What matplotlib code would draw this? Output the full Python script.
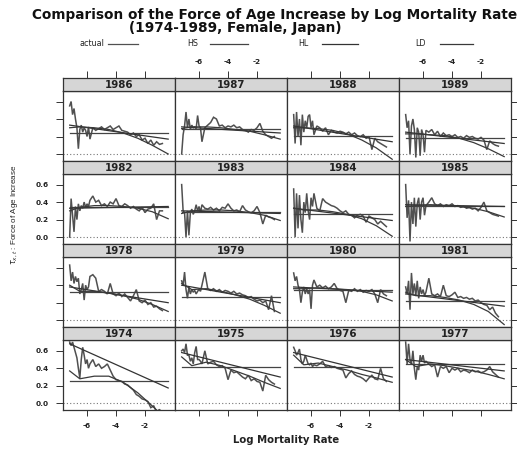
import matplotlib
matplotlib.use("Agg")
import matplotlib.pyplot as plt
from matplotlib.lines import Line2D

plt.rcParams['font.family'] = ['DejaVu Sans']
plt.rcParams['axes.unicode_minus'] = False

# ---------------- data ----------------
X = [-7.2, -7.1, -7.0, -6.9, -6.8, -6.7, -6.6, -6.5, -6.4, -6.3, -6.2, -6.1, -6.0, -5.9, -5.8,
     -5.6, -5.4, -5.2, -5.0, -4.8, -4.6, -4.4, -4.2, -4.0, -3.8, -3.6, -3.4, -3.2, -3.0, -2.8,
     -2.6, -2.4, -2.2, -2.0, -1.8, -1.6, -1.4, -1.2, -1.0, -0.8]

actual_1974 = [0.70, 0.66, 0.70, 0.64, 0.58, 0.52, 0.40, 0.29, 0.50, 0.64, 0.55, 0.45, 0.50, 0.40, 0.45,
               0.50, 0.42, 0.45, 0.40, 0.42, 0.45, 0.38, 0.31, 0.27, 0.26, 0.25, 0.22, 0.21, 0.18, 0.15,
               0.10, 0.08, 0.05, 0.04, 0.02, -0.05, -0.03, -0.10, -0.07, -0.12]
actual_1975 = [0.60, 0.62, 0.58, 0.68, 0.55, 0.55, 0.48, 0.52, 0.45, 0.58, 0.65, 0.50, 0.50, 0.48, 0.45,
               0.60, 0.45, 0.47, 0.48, 0.44, 0.42, 0.43, 0.40, 0.27, 0.38, 0.35, 0.36, 0.33, 0.30, 0.28,
               0.32, 0.26, 0.28, 0.25, 0.24, 0.14, 0.32, 0.27, 0.24, 0.22]
actual_1976 = [0.64, 0.60, 0.55, 0.58, 0.62, 0.50, 0.45, 0.48, 0.55, 0.50, 0.45, 0.44, 0.46, 0.42, 0.44,
               0.43, 0.45, 0.48, 0.42, 0.43, 0.41, 0.42, 0.40, 0.39, 0.38, 0.29, 0.34, 0.37, 0.33, 0.31,
               0.30, 0.28, 0.25, 0.29, 0.32, 0.28, 0.27, 0.40, 0.28, 0.25]
actual_1977 = [0.70, 0.45, 0.68, 0.50, 0.45, 0.60, 0.40, 0.27, 0.42, 0.38, 0.55, 0.48, 0.55, 0.46, 0.48,
               0.45, 0.42, 0.44, 0.30, 0.42, 0.40, 0.42, 0.35, 0.40, 0.38, 0.40, 0.36, 0.38, 0.37, 0.35,
               0.38, 0.36, 0.37, 0.35, 0.36, 0.38, 0.42, 0.36, 0.33, 0.30]
actual_1978 = [0.63, 0.45, 0.55, 0.42, 0.50, 0.44, 0.48, 0.30, 0.35, 0.42, 0.23, 0.40, 0.35, 0.38, 0.50,
               0.52, 0.48, 0.33, 0.35, 0.33, 0.30, 0.42, 0.30, 0.28, 0.31, 0.27, 0.30, 0.26, 0.22, 0.28,
               0.35, 0.22, 0.20, 0.23, 0.18, 0.20, 0.15, 0.16, 0.13, 0.11]
actual_1979 = [0.45, 0.40, 0.55, 0.35, 0.25, 0.38, 0.30, 0.35, 0.32, 0.34, 0.30, 0.33, 0.35, 0.33, 0.40,
               0.55, 0.36, 0.34, 0.36, 0.33, 0.35, 0.32, 0.34, 0.33, 0.31, 0.33, 0.30, 0.31, 0.29, 0.28,
               0.26, 0.27, 0.24, 0.22, 0.23, 0.20, 0.22, 0.12, 0.28, 0.10]
actual_1980 = [0.54, 0.45, 0.50, 0.40, 0.35, 0.20, 0.32, 0.38, 0.30, 0.36, 0.30, 0.35, 0.13, 0.40, 0.46,
               0.38, 0.40, 0.37, 0.39, 0.36, 0.38, 0.42, 0.36, 0.34, 0.33, 0.20, 0.34, 0.33, 0.36, 0.33,
               0.35, 0.32, 0.34, 0.33, 0.35, 0.30, 0.20, 0.35, 0.30, 0.28]
actual_1981 = [0.38, 0.30, 0.45, 0.12, 0.54, 0.30, 0.42, 0.28, 0.45, 0.25, 0.38, 0.30, 0.35, 0.28, 0.32,
               0.48, 0.30, 0.28, 0.30, 0.27, 0.40, 0.28, 0.27, 0.29, 0.32, 0.26, 0.27, 0.25, 0.26, 0.24,
               0.25, 0.22, 0.23, 0.20, 0.18, 0.17, 0.12, 0.15, 0.08, 0.04]
actual_1982 = [0.00, 0.44, 0.25, 0.06, 0.35, 0.20, 0.38, 0.30, 0.36, 0.33, 0.40, 0.34, 0.38, 0.35, 0.42,
               0.47, 0.40, 0.42, 0.36, 0.38, 0.35, 0.40, 0.38, 0.44, 0.36, 0.35, 0.38, 0.36, 0.33, 0.35,
               0.32, 0.30, 0.34, 0.28, 0.32, 0.33, 0.38, 0.20, 0.30, 0.30]
actual_1983 = [0.60, 0.30, 0.28, 0.00, 0.30, 0.02, 0.28, 0.32, 0.26, 0.30, 0.37, 0.30, 0.35, 0.28, 0.37,
               0.33, 0.32, 0.34, 0.31, 0.33, 0.30, 0.34, 0.33, 0.38, 0.33, 0.30, 0.31, 0.29, 0.36, 0.31,
               0.29, 0.28, 0.30, 0.35, 0.28, 0.15, 0.25, 0.23, 0.22, 0.20]
actual_1984 = [0.55, 0.00, 0.50, 0.10, 0.48, 0.20, 0.05, 0.40, 0.28, 0.50, 0.30, 0.20, 0.45, 0.35, 0.50,
               0.33, 0.30, 0.44, 0.40, 0.38, 0.36, 0.35, 0.33, 0.30, 0.28, 0.30, 0.26, 0.25, 0.22, 0.25,
               0.26, 0.24, 0.17, 0.24, 0.22, 0.20, 0.15, 0.18, 0.15, 0.12]
actual_1985 = [0.60, 0.22, 0.42, -0.05, 0.40, 0.15, 0.45, 0.12, 0.38, 0.45, 0.20, 0.40, 0.45, 0.25, 0.36,
               0.40, 0.45, 0.38, 0.36, 0.38, 0.35, 0.37, 0.36, 0.38, 0.35, 0.36, 0.34, 0.35, 0.33, 0.34,
               0.32, 0.33, 0.30, 0.34, 0.40, 0.30, 0.28, 0.26, 0.25, 0.24]
actual_1986 = [0.55, 0.60, 0.45, 0.52, 0.40, 0.30, 0.06, 0.28, 0.33, 0.25, 0.30, 0.27, 0.20, 0.31, 0.17,
               0.30, 0.27, 0.29, 0.31, 0.28, 0.30, 0.32, 0.28, 0.30, 0.32, 0.27, 0.26, 0.25, 0.22, 0.24,
               0.20, 0.22, 0.16, 0.18, 0.12, 0.16, 0.10, 0.14, 0.11, 0.12]
actual_1987 = [0.00, 0.22, 0.32, 0.48, 0.30, 0.40, 0.28, 0.33, 0.30, 0.31, 0.29, 0.44, 0.32, 0.30, 0.14,
               0.30, 0.33, 0.36, 0.42, 0.40, 0.32, 0.33, 0.30, 0.32, 0.31, 0.33, 0.30, 0.31, 0.28, 0.27,
               0.25, 0.28, 0.27, 0.30, 0.35, 0.26, 0.22, 0.20, 0.18, 0.20]
actual_1988 = [0.45, 0.12, 0.48, 0.20, 0.40, 0.10, 0.45, 0.25, 0.38, 0.30, 0.43, 0.45, 0.30, 0.38, 0.22,
               0.32, 0.30, 0.26, 0.30, 0.22, 0.27, 0.25, 0.24, 0.26, 0.25, 0.23, 0.25, 0.22, 0.24, 0.21,
               0.20, 0.22, 0.18, 0.20, 0.05, 0.18, 0.14, 0.12, 0.10, 0.08]
actual_1989 = [0.45, 0.30, 0.38, 0.00, 0.32, 0.40, 0.28, -0.04, 0.30, 0.25, -0.02, 0.28, 0.22, 0.02, 0.27,
               0.25, 0.28, 0.22, 0.26, 0.20, 0.24, 0.21, 0.22, 0.20, 0.22, 0.19, 0.20, 0.18, 0.21, 0.19,
               0.20, 0.18, 0.17, 0.19, 0.16, 0.05, 0.15, 0.12, 0.10, 0.09]

FX = [-7.2, -6.5, -5.5, -4.5, -3.5, -2.5, -1.5, -0.4]
HL_X = [-7.2, -0.4]

hs = {1974: 0.25, 1975: 0.42, 1976: 0.42, 1977: 0.45, 1978: 0.32, 1979: 0.27, 1980: 0.35, 1981: 0.22,
      1982: 0.34, 1983: 0.29, 1984: 0.26, 1985: 0.36, 1986: 0.24, 1987: 0.29, 1988: 0.21, 1989: 0.18}
hl = {1974: [0.68, 0.175], 1975: [0.58, 0.30], 1976: [0.58, 0.30], 1977: [0.50, 0.37],
      1978: [0.38, 0.20], 1979: [0.40, 0.20], 1980: [0.38, 0.32], 1981: [0.30, 0.16],
      1982: [0.33, 0.35], 1983: [0.30, 0.27], 1984: [0.33, 0.19], 1985: [0.37, 0.35],
      1986: [0.33, 0.17], 1987: [0.31, 0.24], 1988: [0.32, 0.14], 1989: [0.25, 0.12]}
ld = {1974: [0.37, 0.28, 0.31, 0.31, 0.24, 0.12, -0.03, -0.20],
      1975: [0.53, 0.43, 0.47, 0.43, 0.37, 0.31, 0.24, 0.17],
      1976: [0.55, 0.44, 0.46, 0.42, 0.38, 0.33, 0.29, 0.24],
      1977: [0.50, 0.42, 0.45, 0.43, 0.40, 0.37, 0.33, 0.28],
      1978: [0.40, 0.33, 0.33, 0.31, 0.28, 0.24, 0.18, 0.10],
      1979: [0.42, 0.35, 0.36, 0.33, 0.29, 0.24, 0.17, 0.08],
      1980: [0.36, 0.36, 0.37, 0.36, 0.35, 0.33, 0.29, 0.22],
      1981: [0.32, 0.28, 0.28, 0.26, 0.23, 0.18, 0.10, -0.05],
      1982: [0.30, 0.34, 0.36, 0.36, 0.35, 0.33, 0.29, 0.21],
      1983: [0.27, 0.30, 0.31, 0.31, 0.30, 0.28, 0.25, 0.19],
      1984: [0.33, 0.31, 0.31, 0.29, 0.26, 0.21, 0.13, 0.01],
      1985: [0.35, 0.36, 0.37, 0.36, 0.35, 0.33, 0.29, 0.23],
      1986: [0.30, 0.31, 0.30, 0.28, 0.24, 0.18, 0.10, 0.00],
      1987: [0.29, 0.31, 0.31, 0.30, 0.28, 0.26, 0.22, 0.17],
      1988: [0.30, 0.30, 0.29, 0.27, 0.23, 0.16, 0.07, -0.06],
      1989: [0.23, 0.23, 0.22, 0.21, 0.18, 0.13, 0.06, -0.03]}

actual = {1974: actual_1974, 1975: actual_1975, 1976: actual_1976, 1977: actual_1977,
          1978: actual_1978, 1979: actual_1979, 1980: actual_1980, 1981: actual_1981,
          1982: actual_1982, 1983: actual_1983, 1984: actual_1984, 1985: actual_1985,
          1986: actual_1986, 1987: actual_1987, 1988: actual_1988, 1989: actual_1989}

XTICKS = [-6, -4, -2]
YTICKS = [0.0, 0.2, 0.4, 0.6]
YTICKLABELS = ['0.0', '0.2', '0.4', '0.6']
LEGEND = ['actual', 'HS', 'HL', 'LD']

# ---------------- layout ----------------
W, H = 517, 454
fig = plt.figure(figsize=(W / 100, H / 100), dpi=100)


def fxc(px):
    return px / W


def fyc(py):
    return 1 - py / H


XLIM = (-7.66, 0.07)
YLIM = (-0.08, 0.72)
col_left = [63, 175, 287, 399]
pw, ph, sh = 112, 70, 13
row_top0, pitch = 91, 83.1
edge = '#333333'
tickfont = dict(fontsize=5.3, fontweight='bold', color='#222222')

for r in range(4):
    for c in range(4):
        year = 1986 - 4 * r + c
        top = row_top0 + pitch * r
        ax = fig.add_axes([fxc(col_left[c]), fyc(top + ph), pw / W, ph / H])
        ax.set_xlim(*XLIM)
        ax.set_ylim(*YLIM)
        ax.axhline(0, color='#777777', lw=0.8, ls=(0, (1, 2)))
        ax.plot(X, actual[year], color='#505050', lw=1.1, solid_joinstyle='miter')
        ax.plot([FX[0], FX[-1]], [hs[year], hs[year]], color='#444444', lw=0.9)
        ax.plot(HL_X, hl[year], color='#333333', lw=0.9)
        ax.plot(FX, ld[year], color='#3a3a3a', lw=0.9)
        for s in ax.spines.values():
            s.set_color(edge)
            s.set_linewidth(0.9)
        # x ticks
        ax.set_xticks(XTICKS)
        ax.set_xticklabels([str(t) for t in XTICKS], **tickfont)
        ax.tick_params(axis='x', direction='out', length=4, width=0.7, color=edge, pad=5,
                       bottom=(r == 3), labelbottom=(r == 3 and c in (0, 2)), top=False, labeltop=False)
        # y ticks
        ax.set_yticks(YTICKS)
        ax.set_yticklabels(YTICKLABELS, **tickfont)
        ax.tick_params(axis='y', direction='out', length=5, width=0.7, color=edge, pad=5,
                       left=(c == 0), labelleft=(c == 0 and r in (1, 3)),
                       right=(c == 3), labelright=False)
        # strip
        sax = fig.add_axes([fxc(col_left[c]), fyc(top), pw / W, sh / H])
        sax.set_xlim(*XLIM)
        sax.set_ylim(0, 1)
        sax.set_facecolor('#d6d6d6')
        for s in sax.spines.values():
            s.set_color(edge)
            s.set_linewidth(0.9)
        sax.set_yticks([])
        sax.set_xticks(XTICKS)
        sax.set_xticklabels([str(t) for t in XTICKS], **tickfont)
        sax.tick_params(axis='x', direction='out', length=5, width=0.7, color=edge, pad=4,
                        bottom=False, labelbottom=False, top=(r == 0), labeltop=(r == 0 and c in (1, 3)))
        sax.text(0.5, 0.45, str(year), transform=sax.transAxes, ha='center', va='center',
                 fontsize=7.4, fontweight='bold', color='#222222')

# titles
fig.text(fxc(275), fyc(15), 'Comparison of the Force of Age Increase by Log Mortality Rate',
         ha='center', va='center', fontsize=9.8, fontweight='bold', color='#111111')
fig.text(fxc(235), fyc(28), '(1974-1989, Female, Japan)',
         ha='center', va='center', fontsize=9.8, fontweight='bold', color='#111111')

# legend (key on top)
leg_text_x = [80, 187, 298, 415]
leg_line_x = [(108, 138), (210, 248), (322, 358), (440, 473)]
leg_colors = ['#505050', '#444444', '#333333', '#3a3a3a']
for name, tx, (l0, l1), col in zip(LEGEND, leg_text_x, leg_line_x, leg_colors):
    fig.text(fxc(tx), fyc(44), name, ha='left', va='center', fontsize=5.8, color='#222222')
    fig.add_artist(Line2D([fxc(l0), fxc(l1)], [fyc(44), fyc(44)], color=col, lw=0.9,
                          transform=fig.transFigure))

# axis labels
fig.text(fxc(286), fyc(440), 'Log Mortality Rate', ha='center', va='center',
         fontsize=7.3, fontweight='bold', color='#222222')
fig.text(fxc(15), fyc(215), r'$\tau_{x,t}$ : Force of Age Increase', ha='center', va='center',
         rotation=90, fontsize=5.8, family='Liberation Sans', color='#222222')

fig.savefig('out.png', dpi=100, facecolor='white')
